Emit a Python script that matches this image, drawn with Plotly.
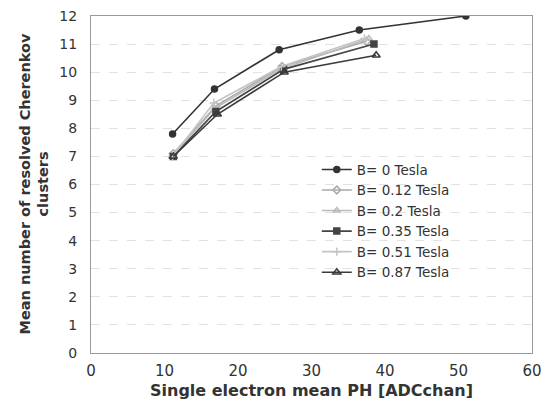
import plotly.graph_objects as go

series_names = ["B= 0 Tesla", "B= 0.12 Tesla", "B= 0.2 Tesla", "B= 0.35 Tesla", "B= 0.51 Tesla", "B= 0.87 Tesla"]
x_b000 = [11.1, 16.8, 25.6, 36.5, 51.0]
y_b000 = [7.8, 9.4, 10.8, 11.5, 12.0]
x_b012 = [11.2, 17.0, 26.0, 37.5]
y_b012 = [7.1, 8.8, 10.2, 11.1]
x_b020 = [11.0, 16.8, 25.8, 37.8]
y_b020 = [7.0, 8.7, 10.1, 11.2]
x_b035 = [11.2, 17.0, 26.2, 38.5]
y_b035 = [7.0, 8.6, 10.1, 11.0]
x_b051 = [11.1, 16.7, 25.9, 37.2]
y_b051 = [7.0, 8.9, 10.2, 11.2]
x_b087 = [11.2, 17.2, 26.3, 38.8]
y_b087 = [7.0, 8.5, 10.0, 10.6]

y_title_lines = ["Mean number of resolved Cherenkov", "clusters"]
x_title = "Single electron mean PH [ADCchan]"

xs = [x_b000, x_b012, x_b020, x_b035, x_b051, x_b087]
ys = [y_b000, y_b012, y_b020, y_b035, y_b051, y_b087]
colors = ["#333333", "#aaaaaa", "#bbbbbb", "#444444", "#c4c4c4", "#3a3a3a"]
symbols = ["circle", "diamond-open", "triangle-up-open", "square", "cross-thin-open", "triangle-up-open"]
sizes = [6, 6, 6, 6, 6, 7]

fig = go.Figure()
for name, x, y, c, s, sz in zip(series_names, xs, ys, colors, symbols, sizes):
    fig.add_trace(go.Scatter(
        x=x, y=y, name=name, mode="lines+markers",
        line=dict(color=c, width=1.6),
        marker=dict(symbol=s, size=sz, color=c, line=dict(color=c, width=1.5)),
    ))

# y-axis title as two tightly spaced rotated lines
for line, xpix in zip(y_title_lines, [-67, -49]):
    fig.add_annotation(
        text="<b>" + line + "</b>", xref="paper", yref="paper", x=0, y=0.5,
        xanchor="center", yanchor="middle", xshift=xpix, textangle=-90,
        showarrow=False, font=dict(size=14.5, color="#333333"),
    )

fig.update_layout(
    width=557, height=414,
    margin=dict(l=83, r=33, t=8, b=69, autoexpand=False),
    paper_bgcolor="white", plot_bgcolor="white",
    font=dict(family="DejaVu Sans", color="#333333", size=13),
    showlegend=True,
    legend=dict(x=0.512, y=0.59, xanchor="left", yanchor="top",
                font=dict(size=13.5, color="#333333"), bgcolor="rgba(0,0,0,0)",
                tracegroupgap=0, itemwidth=30),
    xaxis=dict(
        range=[0, 60], dtick=10, showgrid=False, zeroline=False,
        showline=True, linecolor="#999999", linewidth=1, mirror=True,
        ticks="", tickfont=dict(size=15, color="#333333"), ticklabelstandoff=4,
        ticklabeloverflow="allow",
        title=dict(text="<b>" + x_title + "</b>", font=dict(size=16, color="#333333"), standoff=5),
    ),
    yaxis=dict(
        range=[0, 12], dtick=1, showgrid=True, gridcolor="#e2e2e2", griddash="dash", gridwidth=1,
        zeroline=False, showline=True, linecolor="#999999", linewidth=1, mirror=True,
        ticks="", tickfont=dict(size=14, color="#333333"), ticklabelstandoff=10,
        ticklabeloverflow="allow",
    ),
)

fig.write_html("out.html")
